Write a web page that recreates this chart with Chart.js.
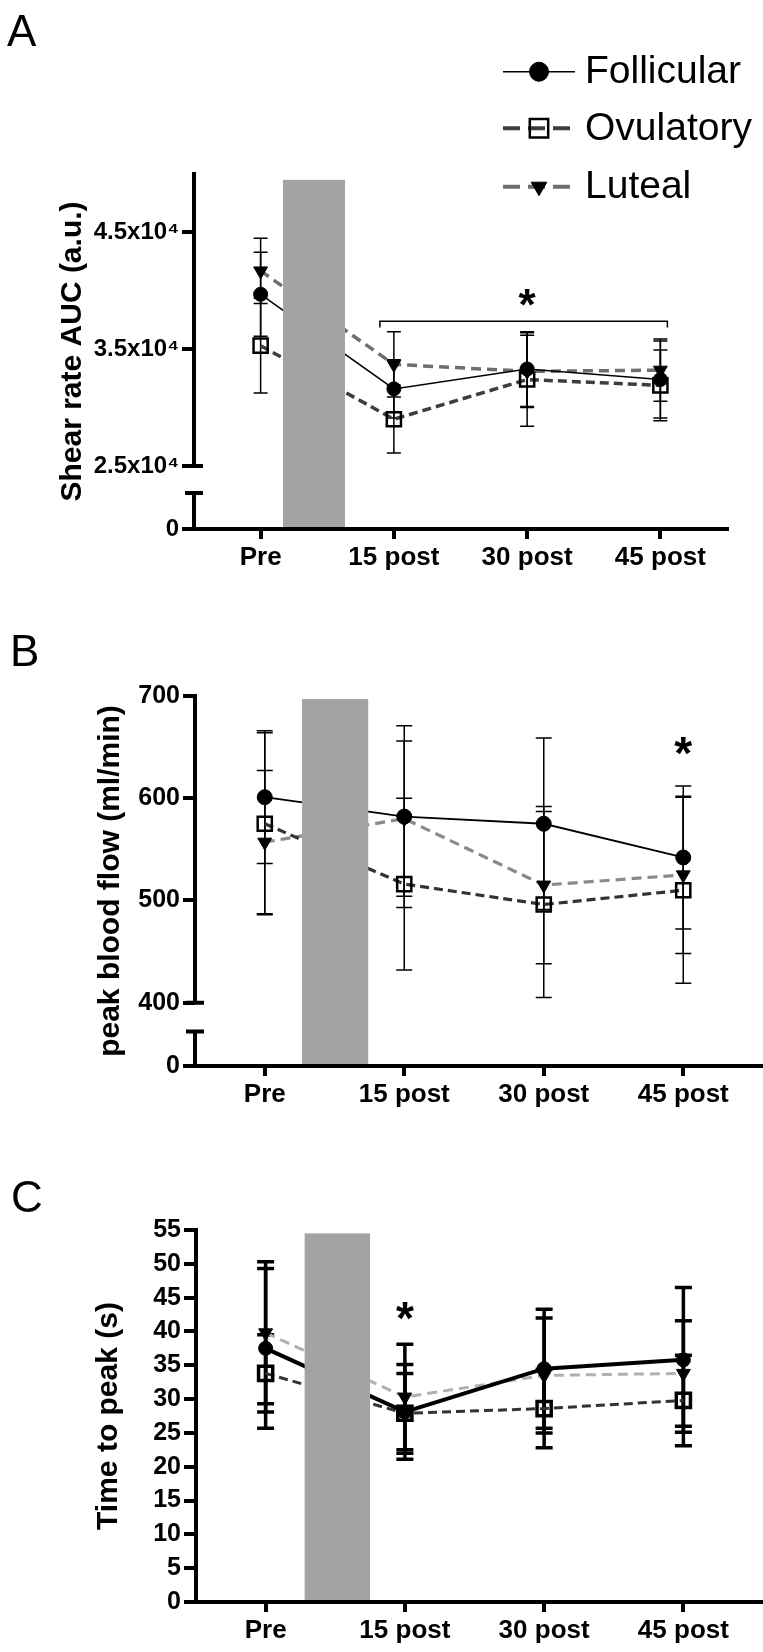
<!DOCTYPE html>
<html>
<head>
<meta charset="utf-8">
<title>Shear rate AUC, peak blood flow and time to peak by cycle phase</title>
<script src="https://cdn.jsdelivr.net/npm/chart.js@4.4.1/dist/chart.umd.min.js"></script>
<style>
  html, body { margin: 0; padding: 0; background: #fff; }
  #page { position: relative; width: 763px; height: 1652px; overflow: hidden; }
  canvas { position: absolute; left: 0; }
</style>
</head>
<body>
<div id="page">
  <canvas id="chartA" width="763" height="575" style="top:0"></canvas>
  <canvas id="chartB" width="763" height="535" style="top:575px"></canvas>
  <canvas id="chartC" width="763" height="542" style="top:1110px"></canvas>
</div>
<script>
const timepoints = ['Pre', '15 post', '30 post', '45 post'];
const phases = ['Follicular', 'Ovulatory', 'Luteal'];

// A: shear rate AUC (a.u.), mean and SD
const shearFollicular = [39700, 31600, 33300, 32400];
const shearOvulatory = [35300, 29000, 32400, 31900];
const shearLuteal = [41700, 33700, 33100, 33200];
const shearFollicularSd = [3600, 2500, 3200, 3300];
const shearOvulatorySd = [4050, 2900, 4000, 3030];
const shearLutealSd = [2800, 2800, 3100, 2660];
const shearTicks = [19600, 25000, 35000, 45000];

// B: peak blood flow (ml/min)
const flowFollicular = [601, 582, 575, 542];
const flowOvulatory = [575, 516, 496, 510];
const flowLuteal = [557, 580, 515, 525];
const flowFollicularSd = [65, 89, 84, 70];
const flowOvulatorySd = [89, 84, 91, 91];
const flowLutealSd = [70, 76, 77, 77];
const flowTicks = [338, 400, 500, 600, 700];

// C: time to peak (s)
const ttpFollicular = [37.5, 28.1, 34.5, 35.8];
const ttpOvulatory = [33.8, 27.9, 28.6, 29.8];
const ttpLuteal = [39.8, 30.3, 33.5, 33.8];
const ttpFollicularSd = [11.8, 7.0, 8.8, 10.7];
const ttpOvulatorySd = [5.7, 5.9, 5.8, 6.7];
const ttpLutealSd = [10.5, 7.8, 8.5, 7.8];
const ttpTicks = [0, 5, 10, 15, 20, 25, 30, 35, 40, 45, 50, 55];

const FONT = '"Liberation Sans", Arial, sans-serif';
Chart.defaults.font.family = FONT;
Chart.defaults.color = '#000';

function phaseSets(values, errors, st) {
  return [
    { label: phases[0], data: values[0], errors: errors[0],
      borderColor: '#000', borderWidth: st.follW,
      pointStyle: 'circle', pointRadius: st.circleR, pointBorderWidth: 1,
      pointBackgroundColor: '#000', pointBorderColor: '#000' },
    { label: phases[1], data: values[1], errors: errors[1],
      borderColor: st.ovuColor, borderWidth: st.dashW, borderDash: [9, 5],
      pointStyle: 'rect', pointRadius: 10, pointBorderWidth: st.squareW,
      pointBackgroundColor: 'rgba(0,0,0,0)', pointBorderColor: '#000' },
    { label: phases[2], data: values[2], errors: errors[2],
      borderColor: st.lutColor, borderWidth: st.dashW, borderDash: [10, 6],
      pointStyle: 'triangle', pointRotation: 180, pointRadius: 8, pointBorderWidth: 1,
      pointBackgroundColor: '#000', pointBorderColor: '#000' }
  ];
}

function panelExtras(cfg) {
  return {
    id: 'extras' + cfg.letter,
    beforeDatasetsDraw(chart) {
      const ctx = chart.ctx, y = chart.scales.y;
      ctx.save();
      ctx.strokeStyle = '#000';
      ctx.lineWidth = cfg.errW;
      chart.data.datasets.forEach((ds, i) => {
        chart.getDatasetMeta(i).data.forEach((pt, j) => {
          const top = y.getPixelForValue(ds.data[j] + ds.errors[j]);
          const bot = y.getPixelForValue(ds.data[j] - ds.errors[j]);
          ctx.beginPath();
          ctx.moveTo(pt.x, top); ctx.lineTo(pt.x, bot);
          ctx.moveTo(pt.x - cfg.cap, top); ctx.lineTo(pt.x + cfg.cap, top);
          ctx.moveTo(pt.x - cfg.cap, bot); ctx.lineTo(pt.x + cfg.cap, bot);
          ctx.stroke();
        });
      });
      ctx.restore();
    },
    afterDatasetsDraw(chart) {
      const ctx = chart.ctx, area = chart.chartArea;
      const x = chart.scales.x, y = chart.scales.y;
      ctx.save();
      // grey block between Pre and 15 post
      const p0 = x.getPixelForValue(0), p1 = x.getPixelForValue(1);
      const sx = p0 + cfg.shade[0] * (p1 - p0), ex = p0 + cfg.shade[1] * (p1 - p0);
      const sy = y.getPixelForValue(cfg.shadeTop);
      ctx.fillStyle = '#a3a3a3';
      ctx.fillRect(sx, sy, ex - sx, area.bottom - 2 - sy);

      ctx.strokeStyle = '#000';
      ctx.lineWidth = 4;
      // x axis runs on to the figure edge
      if (cfg.axisEnd) {
        ctx.beginPath();
        ctx.moveTo(area.right, area.bottom); ctx.lineTo(cfg.axisEnd, area.bottom);
        ctx.stroke();
      }
      // broken y axis
      if (cfg.yBreak) {
        const ax = area.left;
        const hi = y.getPixelForValue(cfg.yBreak[1]), lo = y.getPixelForValue(cfg.yBreak[0]);
        ctx.beginPath();
        ctx.moveTo(ax, area.top - 2); ctx.lineTo(ax, hi);
        ctx.moveTo(ax - 9, hi); ctx.lineTo(ax + 9, hi);
        ctx.moveTo(ax - 9, lo); ctx.lineTo(ax + 9, lo);
        ctx.moveTo(ax, lo); ctx.lineTo(ax, area.bottom + 2);
        ctx.stroke();
      }

      // significance bracket and stars
      if (cfg.bracket) {
        const b = cfg.bracket;
        const bx0 = x.getPixelForValue(b.from) + b.padFrom, bx1 = x.getPixelForValue(b.to) + b.padTo;
        const by = y.getPixelForValue(b.value), be = y.getPixelForValue(b.value - b.drop);
        ctx.lineWidth = 1.5;
        ctx.beginPath();
        ctx.moveTo(bx0, be); ctx.lineTo(bx0, by); ctx.lineTo(bx1, by); ctx.lineTo(bx1, be);
        ctx.stroke();
      }
      ctx.fillStyle = '#000';
      ctx.font = 'bold ' + cfg.starSize + 'px ' + FONT;
      ctx.textAlign = 'center';
      ctx.textBaseline = 'alphabetic';
      cfg.stars.forEach(s => {
        ctx.fillText('*', x.getPixelForValue(s.at), y.getPixelForValue(s.value) + 0.58 * cfg.starSize);
      });
      ctx.restore();
    },
    afterDraw(chart) {
      const ctx = chart.ctx;
      ctx.save();
      ctx.fillStyle = '#000';
      ctx.font = '44px ' + FONT;
      ctx.textAlign = 'left';
      ctx.textBaseline = 'alphabetic';
      ctx.fillText(cfg.letter, cfg.letterPos[0], cfg.letterPos[1]);

      if (cfg.legend) {
        const rows = [71.7, 128.3, 186.7];
        const sizes = [9.5, 13, 9];
        chart.data.datasets.forEach((ds, i) => {
          const ly = rows[i];
          ctx.strokeStyle = ds.borderColor;
          ctx.lineWidth = i === 0 ? 1.5 : 4;
          ctx.setLineDash(i === 0 ? [] : [17, 8]);
          ctx.beginPath();
          ctx.moveTo(503, ly); ctx.lineTo(i === 0 ? 575 : 570, ly);
          ctx.stroke();
          ctx.setLineDash([]);
          ctx.fillStyle = ds.pointBackgroundColor;
          ctx.strokeStyle = ds.pointBorderColor;
          ctx.lineWidth = i === 1 ? 2.5 : 1;
          Chart.helpers.drawPoint(ctx, {
            pointStyle: ds.pointStyle, rotation: ds.pointRotation || 0,
            radius: sizes[i], borderWidth: ctx.lineWidth
          }, 539, ly);
          ctx.fillStyle = '#000';
          ctx.font = '39px ' + FONT;
          ctx.textBaseline = 'middle';
          ctx.fillText(ds.label, 585, ly + 1);
        });
      }
      ctx.restore();
    }
  };
}

function makePanel(id, p) {
  return new Chart(document.getElementById(id), {
    type: 'line',
    data: { labels: timepoints, datasets: p.datasets },
    options: {
      responsive: false,
      animation: false,
      devicePixelRatio: 1,
      events: [],
      layout: { autoPadding: false, padding: { top: p.top, right: p.right, left: 0, bottom: 0 } },
      elements: { line: { tension: 0 } },
      plugins: { legend: { display: false }, tooltip: { enabled: false } },
      scales: {
        x: {
          offset: true,
          grid: { display: true, drawOnChartArea: false, offset: false, color: '#000',
                  lineWidth: 4, tickLength: 10, tickWidth: 4, tickColor: '#000' },
          border: { display: true, color: '#000', width: 4 },
          ticks: { font: { size: 26, weight: 'bold' }, maxRotation: 0, autoSkip: false, padding: 3 },
          afterFit: s => { s.height = p.xHeight; }
        },
        y: {
          min: p.yMin,
          max: p.yMax,
          afterBuildTicks: s => { s.ticks = p.yTicks.map(v => ({ value: v })); },
          grid: { display: true, drawOnChartArea: false, color: '#000',
                  lineWidth: 4, tickLength: 12, tickWidth: 4, tickColor: '#000' },
          border: { display: !p.extras.yBreak, color: '#000', width: 4 },
          ticks: { font: { size: p.tickSize, weight: 'bold' }, autoSkip: false, padding: 3,
                   callback: p.tickLabel },
          title: { display: true, text: p.yTitle, font: { size: 30, weight: 'bold' },
                   padding: { top: p.titlePad, bottom: 0 } },
          afterFit: s => { s.width = p.left; }
        }
      }
    },
    plugins: [panelExtras(p.extras)]
  });
}

makePanel('chartA', {
  datasets: phaseSets([shearFollicular, shearOvulatory, shearLuteal],
                      [shearFollicularSd, shearOvulatorySd, shearLutealSd],
                      { follW: 1.5, dashW: 3.5, circleR: 7, squareW: 2.5, ovuColor: '#3d3d3d', lutColor: '#6e6e6e' }),
  top: 174, right: 36, left: 194, xHeight: 46,
  yMin: 19600, yMax: 50000, yTicks: shearTicks, tickSize: 24,
  tickLabel: v => v === shearTicks[0] ? '0' : (v / 10000).toFixed(1) + 'x10\u2074',
  yTitle: 'Shear rate AUC (a.u.)', titlePad: 55,
  extras: { letter: 'A', letterPos: [7, 46], errW: 1.5, cap: 7,
            shade: [0.168, 0.633], shadeTop: 49500, yBreak: [22690, 25000], axisEnd: 729,
            bracket: { from: 1, to: 3, value: 37400, drop: 550, padFrom: -14, padTo: 7 },
            stars: [{ at: 2, value: 39700 }], starSize: 44, legend: true }
});

makePanel('chartB', {
  datasets: phaseSets([flowFollicular, flowOvulatory, flowLuteal],
                      [flowFollicularSd, flowOvulatorySd, flowLutealSd],
                      { follW: 1.8, dashW: 3.2, circleR: 7.5, squareW: 2.5, ovuColor: '#333333', lutColor: '#8a8a8a' }),
  top: 121, right: 10, left: 195, xHeight: 44,
  yMin: 338, yMax: 700, yTicks: flowTicks, tickSize: 25,
  tickLabel: v => v === flowTicks[0] ? '0' : String(v),
  yTitle: 'peak blood flow (ml/min)', titlePad: 93,
  extras: { letter: 'B', letterPos: [10, 91], errW: 1.5, cap: 8,
            shade: [0.267, 0.742], shadeTop: 697, yBreak: [371.7, 400], axisEnd: 763,
            stars: [{ at: 3, value: 655 }], starSize: 46, legend: false }
});

makePanel('chartC', {
  datasets: phaseSets([ttpFollicular, ttpOvulatory, ttpLuteal],
                      [ttpFollicularSd, ttpOvulatorySd, ttpLutealSd],
                      { follW: 4, dashW: 3, circleR: 7, squareW: 3.5, ovuColor: '#333333', lutColor: '#b0b0b0' }),
  top: 120, right: 10, left: 196, xHeight: 50,
  yMin: 0, yMax: 55, yTicks: ttpTicks, tickSize: 25,
  tickLabel: v => String(v),
  yTitle: 'Time to peak (s)', titlePad: 91,
  extras: { letter: 'C', letterPos: [11, 102], errW: 3.5, cap: 8.5,
            shade: [0.28, 0.75], shadeTop: 54.5, yBreak: null, axisEnd: 763,
            stars: [{ at: 1, value: 43.5 }], starSize: 46, legend: false }
});
</script>
</body>
</html>
